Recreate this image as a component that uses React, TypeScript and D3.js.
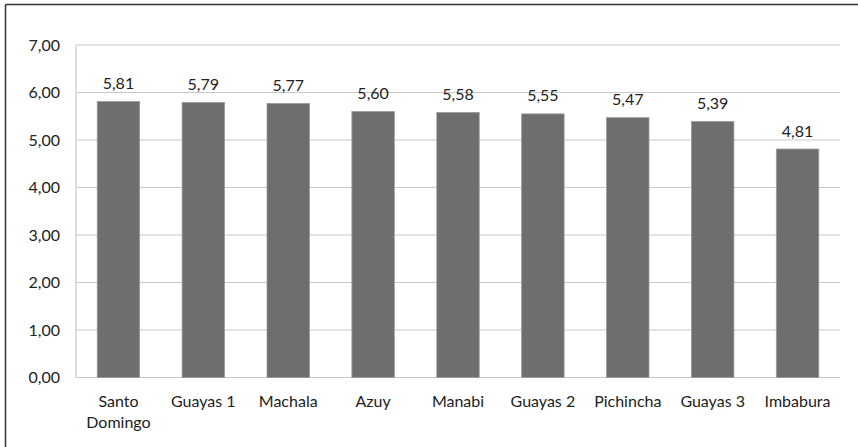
import * as d3 from 'd3';

const categories = ['Santo Domingo', 'Guayas 1', 'Machala', 'Azuy', 'Manabi', 'Guayas 2', 'Pichincha', 'Guayas 3', 'Imbabura'];
const values = [5.81, 5.79, 5.77, 5.6, 5.58, 5.55, 5.47, 5.39, 4.81];
const yTicks = [0, 1, 2, 3, 4, 5, 6, 7];

const W = 858;
const H = 447;
const plot = { left: 76, right: 840, top: 45, bottom: 377.5 };
const font = "Lato, 'Open Sans', sans-serif";
const fs = 16;

const fmt = (v: number) => v.toFixed(2).replace('.', ',');

export default function App() {
  const x = d3.scaleBand<string>().domain(categories).range([plot.left, plot.right]).paddingInner(0.5).paddingOuter(0.25);
  const y = d3.scaleLinear().domain([0, 7]).range([plot.bottom, plot.top]);

  return (
    <div style={{ position: 'absolute', left: 0, top: 0 }}>
      <svg width={W} height={H} style={{ display: 'block', background: '#fff' }}>
        {/* frame (only top/left visible in the crop) */}
        <line x1={5.5} x2={W} y1={4.5} y2={4.5} stroke="#333" strokeWidth={1.5} />
        <line x1={5.5} x2={5.5} y1={4.5} y2={H} stroke="#333" strokeWidth={1.5} />

        {/* gridlines */}
        {yTicks.map((t) => (
          <line key={t} x1={plot.left} x2={plot.right} y1={y(t)} y2={y(t)} stroke="#c8c8c8" strokeWidth={1.2} />
        ))}
        <line x1={plot.left} x2={plot.left} y1={plot.top} y2={plot.bottom} stroke="#c8c8c8" strokeWidth={1.2} />

        {/* y labels */}
        {yTicks.map((t) => (
          <text key={t} x={60} y={y(t)} dy="0.35em" textAnchor="end" fontFamily={font} fontSize={fs} fill="#222">
            {fmt(t)}
          </text>
        ))}

        {/* bars */}
        {categories.map((c, i) => (
          <g key={c}>
            <rect
              x={x(c)!}
              y={y(values[i])}
              width={x.bandwidth()}
              height={plot.bottom - y(values[i])}
              fill="#6e6e6e"
              stroke="#9a9a9a"
              strokeWidth={0.8}
            />
            <text x={x(c)! + x.bandwidth() / 2} y={y(values[i]) - 12.5} textAnchor="middle" fontFamily={font} fontSize={fs} fill="#222">
              {fmt(values[i])}
            </text>
          </g>
        ))}

        {/* x labels */}
        {categories.map((c) => {
          const cx = x(c)! + x.bandwidth() / 2;
          const words = c === 'Santo Domingo' ? ['Santo', 'Domingo'] : [c];
          return (
            <text key={c} textAnchor="middle" fontFamily={font} fontSize={fs} fill="#222">
              {words.map((w, j) => (
                <tspan key={j} x={cx} y={407 + j * 21}>
                  {w}
                </tspan>
              ))}
            </text>
          );
        })}
      </svg>
    </div>
  );
}
